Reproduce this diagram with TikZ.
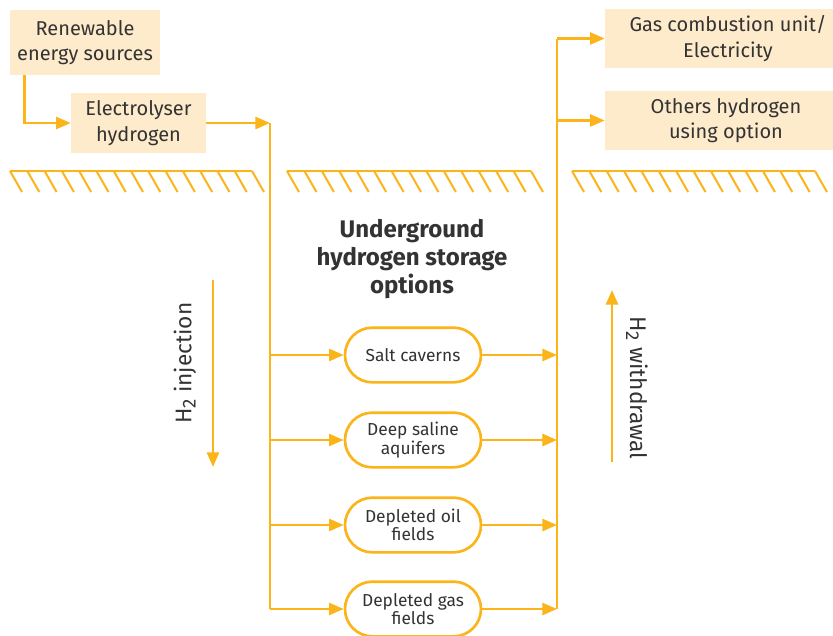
\documentclass[tikz,border=0pt]{standalone}
\usepackage{fontspec}
\setmainfont{Fira Sans}
\usetikzlibrary{arrows.meta,shapes.misc}
\definecolor{hyorange}{HTML}{FBB41A}
\definecolor{hyfill}{HTML}{FDEBCB}
\definecolor{hytext}{HTML}{333333}
% lowered index digit for the chemical formula
\newcommand{\lowtwo}{\raisebox{-0.18em}{\fontsize{14}{16}\selectfont 2}}
\begin{document}
\begin{tikzpicture}[x=0.75pt,y=-0.75pt,
  flow/.style={draw=hyorange, line width=2pt},
  arr/.style={flow, -{Triangle[length=11pt,width=9pt]}},
  infobox/.style={fill=hyfill, text=hytext, align=center,
    font=\fontsize{15}{19}\selectfont, inner sep=0pt},
  store/.style={rounded rectangle, draw=hyorange, line width=2pt, fill=white,
    minimum width=102pt, minimum height=41pt, align=center, text=hytext,
    font=\fontsize{13}{14}\selectfont, inner sep=0pt},
  ground/.style={draw=hyorange, line width=1.5pt},
  side/.style={text=hytext, font=\fontsize{17}{19}\selectfont}
]
\clip (0,0) rectangle (833,636);

% ground surface with hatching
\foreach \a/\b in {10/252, 287/531, 572/815} {
  \draw[ground] (\a,171) -- (\b,171);
  \foreach \i in {0,...,14}
    \draw[ground] ({\a+\i*(\b-\a)/14},171) -- ++(12,21);
}

% surface facilities
\node[infobox, minimum width=112.5pt, minimum height=48.75pt] (res) at (85,42.5) {Renewable\\energy sources};
\node[infobox, minimum width=101.25pt, minimum height=45pt] (ely) at (138.5,123) {Electrolyser\\hydrogen};
\node[infobox, minimum width=184.5pt, minimum height=44.25pt] (gas) at (728,38.5) {Gas combustion unit/\\Electricity};
\node[infobox, minimum width=181.5pt, minimum height=44.25pt] (oth) at (726,120.5) {Others hydrogen\\using option};

% title
\node[text=hytext, align=center, font=\bfseries\fontsize{18}{21}\selectfont] (title) at (412,259) {Underground\\hydrogen storage\\options};

% storage options
\node[store] (s1) at (413,355) {Salt caverns};
\node[store] (s2) at (413,440) {Deep saline\\aquifers};
\node[store] (s3) at (413,525) {Depleted oil\\fields};
\node[store] (s4) at (413,609) {Depleted gas\\fields};

% trunk lines
\coordinate (inTop) at (270,123);
\coordinate (inBot) at (270,609);
\coordinate (outBot) at (557,609);
\coordinate (outTop) at (557,38.5);
\coordinate (outMid) at (557,120.5);

\draw[arr] ([xshift=11.25pt]res.south west) |- (ely.west);
\draw[arr] (ely.east) -- (inTop);
\draw[flow] (inTop) -- (inBot);
\draw[flow] (outBot) -- (outTop);
\draw[arr] (outTop) -- (gas.west);
\draw[arr] (outMid) -- (oth.west);

\foreach \s in {s1,s2,s3,s4} {
  \draw[arr] (inTop |- \s.west) -- (\s.west);
  \draw[arr] (\s.east) -- (outBot |- \s.east);
}

% direction labels
\node[side, rotate=90] (inj) at (185,363) {H\lowtwo\ injection};
\coordinate (injA) at (213,280);
\coordinate (injB) at (213,467);
\draw[arr] (injA) -- (injB);

\node[side, rotate=-90] (wdr) at (637,388) {H\lowtwo\ withdrawal};
\coordinate (wdrA) at (612,462);
\coordinate (wdrB) at (612,290);
\draw[arr] (wdrA) -- (wdrB);
\end{tikzpicture}
\end{document}
